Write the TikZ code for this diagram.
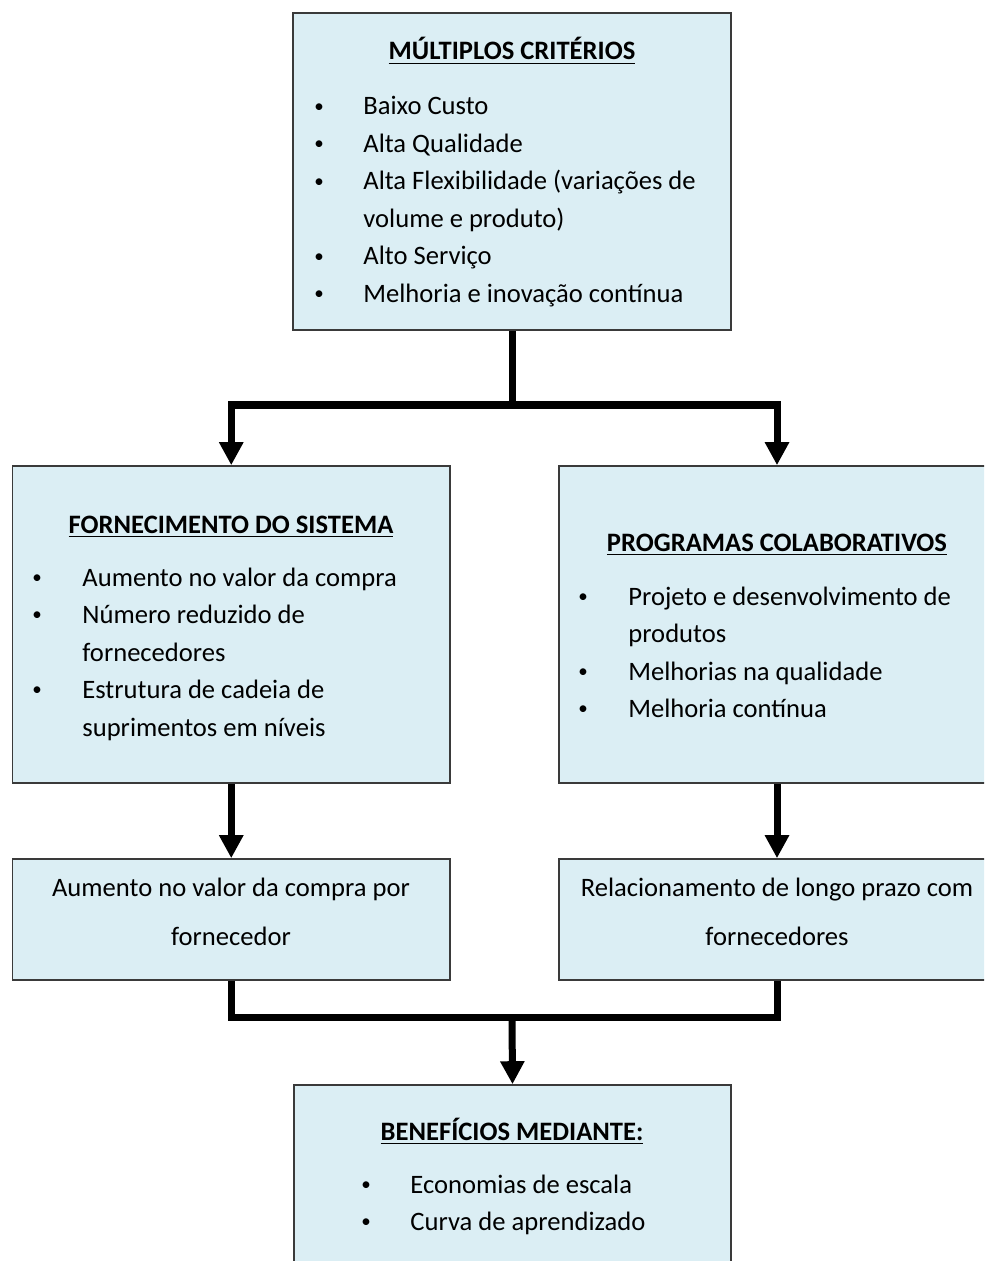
\documentclass[tikz,border=0pt]{standalone}
\usepackage{fontspec}
\setmainfont{Carlito}
\usetikzlibrary{arrows.meta,fit}
\definecolor{boxfill}{HTML}{DBEEF4}
\definecolor{boxline}{HTML}{3A3A3A}
\newcommand{\smallbul}{\raisebox{1.3pt}{\fontsize{9.5}{10}\selectfont •}}
\begin{document}
\begin{tikzpicture}[x=0.5pt,y=-0.5pt,
  box/.style={draw=boxline, fill=boxfill, line width=0.8pt, rectangle, inner sep=0pt},
  txt/.style={anchor=base west, inner sep=0pt, font=\fontsize{13.3}{18.75}\selectfont},
  ctr/.style={anchor=base, inner sep=0pt, font=\fontsize{13.3}{18.75}\selectfont},
  ttl/.style={anchor=base, inner sep=0pt, font=\fontsize{13.3}{18.75}\selectfont\bfseries},
  bul/.style={anchor=base, inner sep=0pt, font=\fontsize{13.3}{18.75}\selectfont},
  conn/.style={line width=3.5pt, draw=black, line join=miter},
  arr/.style={conn, -{Triangle[width=11.5pt,length=11.5pt]}}]
\useasboundingbox (0,0) rectangle (984,1261);
\clip (0,0) rectangle (984,1261);

% boxes
\node[box, fit={(293,13) (731,330)}] (top) {};
\node[box, fit={(12.5,466) (450,783)}] (fs) {};
\node[box, fit={(559,466) (995,783)}] (pc) {};
\node[box, fit={(12.5,859) (450,980)}] (ml) {};
\node[box, fit={(559,859) (995,980)}] (mr) {};
\node[box, fit={(294,1085) (731,1300)}] (ben) {};

% top box text
\node[ttl] (topT) at (512,60) {\underline{MÚLTIPLOS CRITÉRIOS}};
\node[bul] (tb1) at (319,115) {\smallbul};
\node[txt] (tt1) at (363,115) {Baixo Custo};
\node[bul] (tb2) at (319,152.5) {\smallbul};
\node[txt] (tt2) at (363,152.5) {Alta Qualidade};
\node[bul] (tb3) at (319,190) {\smallbul};
\node[txt] (tt3) at (363,190) {Alta Flexibilidade (variações de};
\node[txt] (tt4) at (363,227.5) {volume e produto)};
\node[bul] (tb5) at (319,265) {\smallbul};
\node[txt] (tt5) at (363,265) {Alto Serviço};
\node[bul] (tb6) at (319,302.5) {\smallbul};
\node[txt] (tt6) at (363,302.5) {Melhoria e inovação contínua};

% left box text
\node[ttl] (fsT) at (231,533) {\underline{FORNECIMENTO DO SISTEMA}};
\node[bul] (fb1) at (37,586) {\smallbul};
\node[txt] (ft1) at (82,586) {Aumento no valor da compra};
\node[bul] (fb2) at (37,623.5) {\smallbul};
\node[txt] (ft2) at (82,623.5) {Número reduzido de};
\node[txt] (ft3) at (82,661) {fornecedores};
\node[bul] (fb4) at (37,698.5) {\smallbul};
\node[txt] (ft4) at (82,698.5) {Estrutura de cadeia de};
\node[txt] (ft5) at (82,736) {suprimentos em níveis};

% right box text
\node[ttl] (pcT) at (777,551) {\underline{PROGRAMAS COLABORATIVOS}};
\node[bul] (pb1) at (583,605) {\smallbul};
\node[txt] (pt1) at (628,605) {Projeto e desenvolvimento de};
\node[txt] (pt2) at (628,642.5) {produtos};
\node[bul] (pb3) at (583,680) {\smallbul};
\node[txt] (pt3) at (628,680) {Melhorias na qualidade};
\node[bul] (pb4) at (583,717.5) {\smallbul};
\node[txt] (pt4) at (628,717.5) {Melhoria contínua};

% middle boxes text
\node[ctr] (ml1) at (231,896) {Aumento no valor da compra por};
\node[ctr] (ml2) at (231,945) {fornecedor};
\node[ctr] (mr1) at (777,896) {Relacionamento de longo prazo com};
\node[ctr] (mr2) at (777,945) {fornecedores};

% bottom box text
\node[ttl] (benT) at (512,1140) {\underline{BENEFÍCIOS MEDIANTE:}};
\node[bul] (bb1) at (366,1193) {\smallbul};
\node[txt] (bt1) at (410,1193) {Economias de escala};
\node[bul] (bb2) at (366,1230.5) {\smallbul};
\node[txt] (bt2) at (410,1230.5) {Curva de aprendizado};

% connectors
\coordinate (j1) at (512,405);
\coordinate (j2) at (512,1017);
\draw[conn] (top.south) -- (j1);
\draw[arr] (j1) -| (fs.north);
\draw[arr] (j1) -| (pc.north);
\draw[arr] (fs.south) -- (ml.north);
\draw[arr] (pc.south) -- (mr.north);
\draw[conn] (ml.south) |- (j2) -| (mr.south);
\draw[arr] (j2) -- (ben.north);
\end{tikzpicture}
\end{document}
